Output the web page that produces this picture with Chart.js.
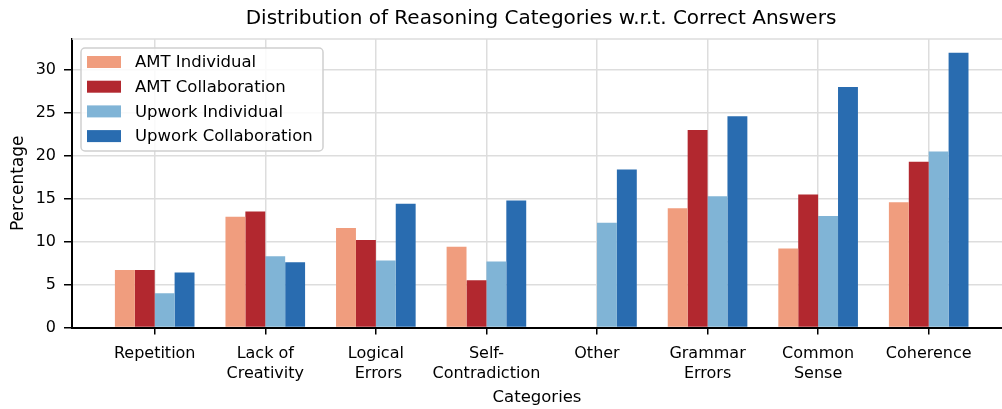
<!DOCTYPE html>
<html>
<head>
<meta charset="utf-8">
<script src="https://cdn.jsdelivr.net/npm/chart.js@4"></script>
<style>
    html, body { margin: 0; padding: 0; background: #fff; }
    canvas { display: block; }
</style>
</head>
<body>
<canvas id="chart1" width="1002" height="409"></canvas>
<script>
// Categories (multi-line tick labels)
const categories = [
    ['Repetition'],
    ['Lack of', 'Creativity'],
    ['Logical', ' Errors'],
    ['Self-', 'Contradiction'],
    ['Other'],
    ['Grammar', 'Errors'],
    ['Common', 'Sense'],
    ['Coherence']
];

// Percentages
const amtIndividual       = [6.7, 12.9, 11.6, 9.4, 0, 13.9, 9.2, 14.6];
const amtCollaboration    = [6.7, 13.5, 10.2, 5.5, 0, 23.0, 15.5, 19.3];
const upworkIndividual    = [4.0, 8.3, 7.8, 7.7, 12.2, 15.3, 13.0, 20.5];
const upworkCollaboration = [6.4, 7.6, 14.4, 14.8, 18.4, 24.6, 28.0, 32.0];

const seriesNames = ['AMT Individual', 'AMT Collaboration', 'Upwork Individual', 'Upwork Collaboration'];
const seriesColors = ['#f09d7e', '#b2282f', '#80b4d6', '#296cb0'];

const FONT = "'DejaVu Sans', sans-serif";

function toPoints(values) {
    return values.map((v, i) => ({ x: i, y: v }));
}

// Title, top frame line and legend box drawn inside the plot
const decorPlugin = {
    id: 'decor',
    afterDatasetsDraw(chart) {
        const ctx = chart.ctx;
        const area = chart.chartArea;
        ctx.save();
        ctx.strokeStyle = '#dddddd';
        ctx.lineWidth = 1.5;
        ctx.beginPath();
        ctx.moveTo(area.left, area.top);
        ctx.lineTo(area.right, area.top);
        ctx.stroke();

        // legend
        const bx = 81, by = 48, bw = 242, bh = 103;
        ctx.fillStyle = 'rgba(255,255,255,0.85)';
        ctx.strokeStyle = '#d0d0d0';
        ctx.lineWidth = 1.5;
        ctx.beginPath();
        ctx.roundRect(bx, by, bw, bh, 4);
        ctx.fill();
        ctx.stroke();

        ctx.font = '16.5px ' + FONT;
        ctx.textBaseline = 'middle';
        ctx.textAlign = 'left';
        chart.data.datasets.forEach((ds, i) => {
            const cy = 62 + i * 24.7;
            ctx.fillStyle = ds.backgroundColor;
            ctx.fillRect(87, cy - 6, 34, 12);
            ctx.fillStyle = '#000';
            ctx.fillText(ds.label, 135, cy + 1);
        });
        ctx.restore();
    },
    afterDraw(chart) {
        const ctx = chart.ctx;
        ctx.save();
        ctx.font = '20px ' + FONT;
        ctx.fillStyle = '#000';
        ctx.textAlign = 'center';
        ctx.textBaseline = 'middle';
        ctx.fillText('Distribution of Reasoning Categories w.r.t. Correct Answers', 541, 19);
        ctx.restore();
    }
};

const ctx1 = document.getElementById('chart1').getContext('2d');
const chart1 = new Chart(ctx1, {
    type: 'bar',
    data: {
        datasets: [
            { label: seriesNames[0], data: toPoints(amtIndividual), backgroundColor: seriesColors[0] },
            { label: seriesNames[1], data: toPoints(amtCollaboration), backgroundColor: seriesColors[1] },
            { label: seriesNames[2], data: toPoints(upworkIndividual), backgroundColor: seriesColors[2] },
            { label: seriesNames[3], data: toPoints(upworkCollaboration), backgroundColor: seriesColors[3] }
        ]
    },
    options: {
        responsive: false,
        animation: false,
        categoryPercentage: 0.72,
        barPercentage: 1,
        layout: { padding: { top: 39, left: 0, right: 0, bottom: 0 } },
        plugins: {
            legend: { display: false },
            tooltip: { enabled: false }
        },
        scales: {
            x: {
                type: 'linear',
                offset: false,
                min: -0.748,
                max: 7.663,
                afterFit: s => { s.height = 81.5; },
                grid: { offset: false, color: '#dddddd', lineWidth: 1.5, tickColor: '#000', tickLength: 7, tickWidth: 1.5 },
                border: { color: '#000', width: 2 },
                ticks: {
                    stepSize: 1,
                    includeBounds: false,
                    autoSkip: false,
                    maxRotation: 0,
                    padding: 9,
                    color: '#000',
                    font: { family: FONT, size: 16, lineHeight: 1.25 },
                    callback: v => categories[v]
                },
                title: {
                    display: true,
                    text: 'Categories',
                    color: '#000',
                    font: { family: FONT, size: 16.5 },
                    padding: { top: 1, bottom: 1 }
                }
            },
            y: {
                min: 0,
                max: 33.6,
                afterFit: s => { s.width = 72; },
                grid: { color: '#dddddd', lineWidth: 1.5, tickColor: '#000', tickLength: 8, tickWidth: 1.5 },
                border: { color: '#000', width: 2 },
                ticks: {
                    stepSize: 5,
                    includeBounds: false,
                    padding: 8,
                    color: '#000',
                    font: { family: FONT, size: 16 }
                },
                title: {
                    display: true,
                    text: 'Percentage',
                    color: '#000',
                    font: { family: FONT, size: 17 },
                    padding: { top: 8, bottom: 8 }
                }
            }
        }
    },
    plugins: [decorPlugin]
});
</script>
</body>
</html>
